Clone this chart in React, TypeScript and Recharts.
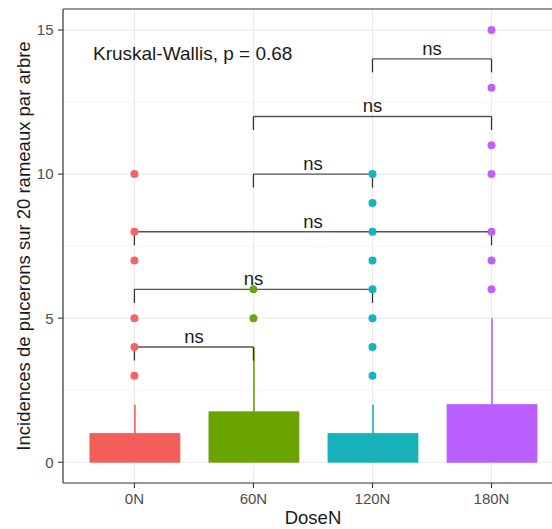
import React from 'react';
import {
  ComposedChart, Bar, Scatter, XAxis, YAxis, CartesianGrid, ReferenceLine,
  ReferenceDot, Cell,
} from 'recharts';

const doses = ['0N', '60N', '120N', '180N'];
const q1Values = [0, 0, 0, 0];
const q3Values = [1, 1.75, 1, 2];
const upperWhiskers = [2, 4, 2, 5];
const outliers0N = [3, 4, 5, 7, 8, 10];
const outliers60N = [5, 6];
const outliers120N = [3, 4, 5, 6, 7, 8, 9, 10];
const outliers180N = [6, 7, 8, 10, 11, 13, 15];
const comparisonPairs: [number, number][] = [[1, 2], [1, 3], [1, 4], [2, 3], [2, 4], [3, 4]];
const comparisonY = [4, 6, 8, 10, 12, 14];
const comparisonLabels = ['ns', 'ns', 'ns', 'ns', 'ns', 'ns'];
const kwLabel = 'Kruskal-Wallis, p = 0.68';
const yTicks = [0, 5, 10, 15];
const yMinorTicks = [2.5, 7.5, 12.5];
const xTitle = 'DoseN';
const yTitle = 'Incidences de pucerons sur 20 rameaux par arbre';

const COLORS = ['#F35E5A', '#6AA300', '#17B1B9', '#BA5EFF'];
const POINT_COLORS = ['#F6646A', '#6BA60A', '#16B4BC', '#BB62FA'];
const FONT = '"Liberation Sans", Arial, Helvetica, sans-serif';
const Y_DOMAIN: [number, number] = [-0.72, 15.73];
// panel is cropped on the right in the reference: visible part ends ~0.52 units after 180N
const X_DOMAIN: [number, number] = [0.4, 4.508];
const TIP = 0.47;

const boxData = doses.map((d, i) => ({
  dose: d,
  pos: i + 1,
  base: q1Values[i],
  box: q3Values[i] - q1Values[i],
  whisk: upperWhiskers[i] - q3Values[i],
}));

const outlierGroups = [outliers0N, outliers60N, outliers120N, outliers180N];
const outlierData = outlierGroups.flatMap((arr, gi) =>
  arr.map((v) => ({ pos: gi + 1, value: v, group: gi }))
);

const WhiskerShape = (p: any) => {
  const gi = (p.payload?.pos ?? 1) - 1;
  const cx = p.x + p.width / 2;
  return <line x1={cx} x2={cx} y1={p.y} y2={p.y + p.height} stroke={COLORS[gi]} strokeWidth={1.6} />;
};

const PointShape = (p: any) => {
  const gi = p.payload?.group ?? 0;
  return <circle cx={p.cx} cy={p.cy} r={4} fill={POINT_COLORS[gi]} />;
};

const YTitle = (p: any) => {
  const vb = p.viewBox || { x: 0, y: 9, width: 63, height: 474 };
  const cy = vb.y + vb.height / 2;
  const x = 29.5;
  return (
    <text x={x} y={cy} transform={`rotate(-90 ${x} ${cy})`} textAnchor="middle"
      fontSize={18.5} fill="#1a1a1a" fontFamily={FONT}>{yTitle}</text>
  );
};

const XTitle = (p: any) => {
  const vb = p.viewBox || { x: 63, y: 483, width: 489, height: 46 };
  return (
    <text x={313} y={524} textAnchor="middle"
      fontSize={18.5} fill="#1a1a1a" fontFamily={FONT}>{xTitle}</text>
  );
};

export default function App() {
  return (
    <div style={{ position: 'absolute', left: 0, top: 0, width: 552, height: 529, overflow: 'hidden', background: '#fff', fontFamily: FONT }}>
      <ComposedChart width={552} height={529} data={boxData}
        margin={{ top: 9, right: 0, bottom: 0, left: 0 }}>
        <CartesianGrid horizontalValues={yMinorTicks} vertical={false} stroke="#EFEFEF" strokeWidth={0.7} />
        <CartesianGrid horizontalValues={yTicks} verticalValues={[1, 2, 3, 4]} stroke="#EBEBEB" strokeWidth={1.2} />
        <XAxis dataKey="pos" type="number" domain={X_DOMAIN} ticks={[1, 2, 3, 4]} allowDataOverflow
          tickFormatter={(v: number) => doses[v - 1]} height={46}
          axisLine={{ stroke: '#333', strokeWidth: 1.2 }}
          tickSize={5} tickMargin={5} tickLine={{ stroke: '#333', strokeWidth: 1.1 }}
          tick={{ fill: '#4D4D4D', fontSize: 15, fontFamily: FONT }} interval={0}
          label={<XTitle />} />
        <YAxis type="number" domain={Y_DOMAIN} ticks={yTicks} allowDataOverflow width={63}
          axisLine={{ stroke: '#333', strokeWidth: 1.2 }}
          tickSize={5} tickMargin={4.5} tickLine={{ stroke: '#333', strokeWidth: 1.1 }}
          tick={{ fill: '#4D4D4D', fontSize: 15, fontFamily: FONT }} interval={0}
          label={<YTitle />} />
        <ReferenceLine y={Y_DOMAIN[1]} stroke="#333" strokeWidth={1.2} ifOverflow="visible" />
        <Bar dataKey="base" stackId="b" fill="none" barSize={90} isAnimationActive={false} />
        <Bar dataKey="box" stackId="b" barSize={90} isAnimationActive={false}>
          {boxData.map((_, i) => <Cell key={i} fill={COLORS[i]} stroke={COLORS[i]} strokeWidth={0.8} />)}
        </Bar>
        <Bar dataKey="whisk" stackId="b" barSize={90} shape={<WhiskerShape />} isAnimationActive={false} />
        <Scatter data={outlierData} dataKey="value" shape={<PointShape />} isAnimationActive={false} />
        {comparisonPairs.map(([a, b], i) => (
          <ReferenceLine key={'h' + i} segment={[{ x: a, y: comparisonY[i] }, { x: b, y: comparisonY[i] }]}
            stroke="#555" strokeWidth={1.3} />
        ))}
        {comparisonPairs.map(([a], i) => (
          <ReferenceLine key={'l' + i} segment={[{ x: a, y: comparisonY[i] }, { x: a, y: comparisonY[i] - TIP }]}
            stroke="#333" strokeWidth={1.3} />
        ))}
        {comparisonPairs.map(([, b], i) => (
          <ReferenceLine key={'r' + i} segment={[{ x: b, y: comparisonY[i] }, { x: b, y: comparisonY[i] - TIP }]}
            stroke="#333" strokeWidth={1.3} />
        ))}
        {comparisonPairs.map(([a, b], i) => (
          <ReferenceDot key={'t' + i} x={(a + b) / 2} y={comparisonY[i]} r={0} fill="none" stroke="none"
            label={{ value: comparisonLabels[i], position: 'top', offset: 4, fontSize: 18.5, fill: '#1a1a1a', fontFamily: FONT }} />
        ))}
        <ReferenceDot x={0.652} y={14.2} r={0} fill="none" stroke="none"
          label={{ value: kwLabel, position: 'right', offset: 0, fontSize: 19, fill: '#1a1a1a', fontFamily: FONT }} />
      </ComposedChart>
    </div>
  );
}
